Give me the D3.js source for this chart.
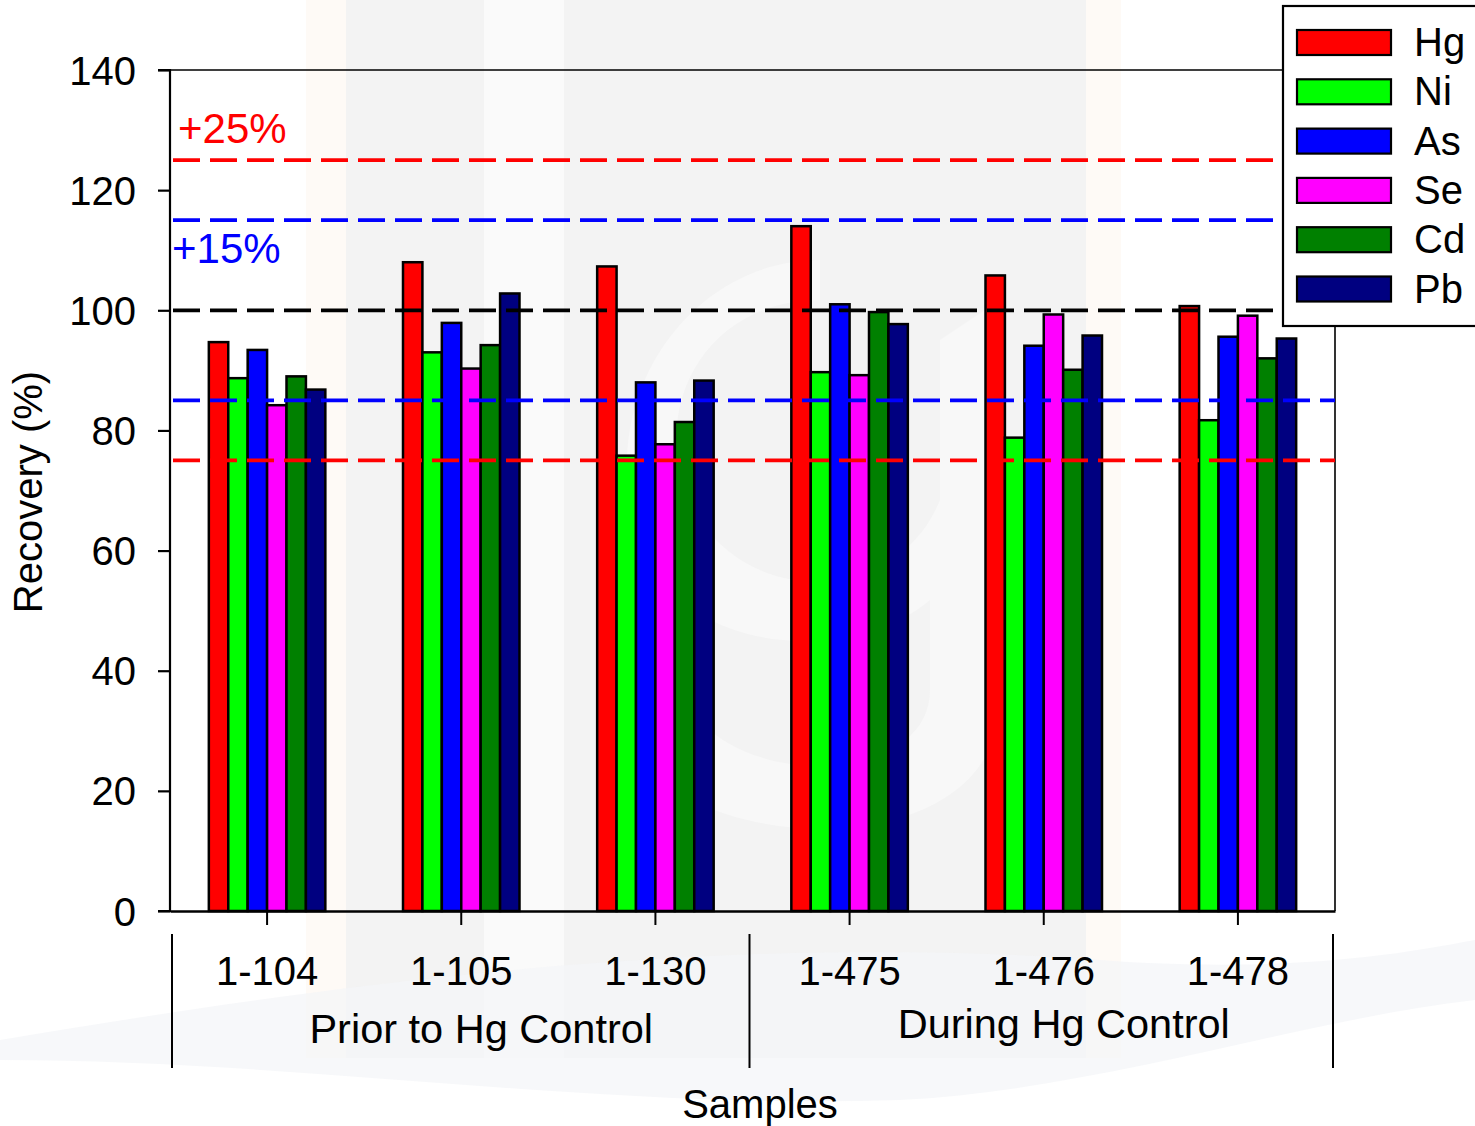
<!DOCTYPE html>
<html>
<head>
<meta charset="utf-8">
<script src="https://cdn.jsdelivr.net/npm/d3@7/dist/d3.min.js"></script>
<style>
  html, body { margin: 0; padding: 0; background: #fff; }
  svg { display: block; font-family: "Liberation Sans", Arial, sans-serif; }
</style>
</head>
<body>
<svg id="chart" width="1475" height="1126"></svg>
<script>
// Sample IDs and the two sampling periods
const samples = ["1-104", "1-105", "1-130", "1-475", "1-476", "1-478"];
const periods = [
  { name: "Prior to Hg Control", from: "1-104", mid: "1-105", to: "1-130" },
  { name: "During Hg Control",   from: "1-475", mid: "1-476", to: "1-478" }
];

// Metals and their bar colours
const metals = ["Hg", "Ni", "As", "Se", "Cd", "Pb"];
const metalColors = ["#ff0000", "#00ff00", "#0000ff", "#ff00ff", "#008000", "#000080"];

// Recovery (%) per metal, in sample order
const Hg = [94.7, 108.0, 107.3, 114.0, 105.8, 100.7];
const Ni = [88.7, 93.0, 75.8, 89.7, 78.8, 81.7];
const As = [93.4, 97.9, 88.0, 101.0, 94.1, 95.6];
const Se = [84.2, 90.3, 77.7, 89.2, 99.3, 99.1];
const Cd = [89.0, 94.2, 81.4, 99.7, 90.1, 92.0];
const Pb = [86.8, 102.8, 88.3, 97.7, 95.8, 95.3];
const seriesValues = { Hg, Ni, As, Se, Cd, Pb };

// Y axis ticks
const yTicks = [0, 20, 40, 60, 80, 100, 120, 140];

// Acceptance limits
const limits = [
  { value: 125, color: "#ff0000" },
  { value: 115, color: "#0000ff" },
  { value: 100, color: "#000000" },
  { value: 85,  color: "#0000ff" },
  { value: 75,  color: "#ff0000" }
];
const limitLabels = [
  { text: "+25%", value: 125, color: "#ff0000" },
  { text: "+15%", value: 115, color: "#0000ff" }
];

const svg = d3.select("#chart");
const plot = { left: 170, right: 1335, top: 70, bottom: 911 };

// --- faint background watermark ---
const bg = svg.append("g").attr("class", "watermark");
bg.append("rect").attr("x", 306).attr("y", 0).attr("width", 40).attr("height", 1058).attr("fill", "#fefaf6");
bg.append("rect").attr("x", 1086).attr("y", 0).attr("width", 35).attr("height", 1058).attr("fill", "#fefaf6");
bg.append("rect").attr("x", 346).attr("y", 0).attr("width", 740).attr("height", 1058).attr("fill", "#f3f3f3");
bg.append("rect").attr("x", 484).attr("y", 0).attr("width", 80).attr("height", 1058).attr("fill", "#fafafa");
bg.append("path")
  .attr("d", "M820,300 C700,300 640,420 700,520 C760,610 900,600 940,500 L940,340 L1000,300 L1000,700 C1000,860 720,860 640,760 L700,720 C760,790 930,780 930,690 L930,600 C860,660 700,660 650,560 C580,420 680,260 820,260 Z")
  .attr("fill", "#f8f8f8");
bg.append("path")
  .attr("d", "M0,1040 C300,990 700,930 1100,960 C1300,975 1420,950 1475,940 L1475,1000 C1300,1020 1100,1090 900,1100 C600,1110 300,1060 0,1060 Z")
  .attr("fill", "#f3f5f8").attr("opacity", 0.7);

// --- scales ---
const x0 = d3.scaleBand().domain(samples).range([plot.left, plot.right]).padding(0);
const bw = x0.bandwidth();
const x1 = d3.scaleBand().domain(metals).range([bw * 0.2, bw * 0.8]).padding(0);
const y = d3.scaleLinear().domain([0, 140]).range([plot.bottom, plot.top]);
const color = d3.scaleOrdinal().domain(metals).range(metalColors);

// plot frame (top and right)
svg.append("path")
  .attr("d", `M${plot.left},${plot.top}H${plot.right}V${plot.bottom}`)
  .attr("fill", "none").attr("stroke", "#000").attr("stroke-width", 1.6);

// --- bars ---
const groups = svg.append("g").selectAll("g")
  .data(samples).join("g")
  .attr("transform", d => `translate(${x0(d)},0)`);
groups.selectAll("rect")
  .data((s, i) => metals.map(m => ({ metal: m, value: seriesValues[m][i] })))
  .join("rect")
  .attr("x", d => x1(d.metal))
  .attr("width", x1.bandwidth())
  .attr("y", d => y(d.value))
  .attr("height", d => y(0) - y(d.value))
  .attr("fill", d => color(d.metal))
  .attr("stroke", "#000").attr("stroke-width", 2.5);

// --- limit lines ---
svg.append("g").selectAll("line")
  .data(limits).join("line")
  .attr("x1", plot.left).attr("x2", plot.right)
  .attr("y1", d => y(d.value)).attr("y2", d => y(d.value))
  .attr("stroke", d => d.color).attr("stroke-width", 3.8)
  .attr("stroke-dasharray", "27,10").attr("stroke-dashoffset", -3);

svg.append("g").selectAll("text")
  .data(limitLabels).join("text")
  .attr("x", (d, i) => i === 0 ? 178 : 172)
  .attr("y", d => d.value === 125 ? 143 : 263)
  .attr("fill", d => d.color)
  .attr("font-size", 42)
  .text(d => d.text);

// --- y axis ---
const yAxis = svg.append("g")
  .attr("transform", `translate(${plot.left},0)`)
  .call(d3.axisLeft(y).tickValues(yTicks).tickSize(12).tickPadding(22).tickFormat(d3.format("d")));
yAxis.select(".domain").attr("stroke-width", 2.2).attr("d", `M-12,${plot.top}H0V${plot.bottom}H-12`);
yAxis.selectAll(".tick line").attr("stroke-width", 2.2);
yAxis.selectAll(".tick text").attr("font-size", 40).attr("fill", "#000")
  .attr("font-family", "Liberation Sans, Arial, sans-serif").attr("dy", "0.35em");

// --- x axis ---
const xAxis = svg.append("g")
  .attr("transform", `translate(0,${plot.bottom})`)
  .call(d3.axisBottom(x0).tickSize(14).tickSizeOuter(0).tickFormat(""));
xAxis.select(".domain").attr("stroke-width", 2.6);
xAxis.selectAll(".tick line").attr("stroke-width", 2);

// sample labels
svg.append("g").selectAll("text")
  .data(samples).join("text")
  .attr("x", d => x0(d) + bw / 2)
  .attr("y", 985)
  .attr("text-anchor", "middle")
  .attr("font-size", 40)
  .text(d => d);

// period separators and names
const sepXs = [plot.left + 2, x0(periods[1].from) - 3, plot.right - 2];
svg.append("g").selectAll("line")
  .data(sepXs).join("line")
  .attr("x1", d => d).attr("x2", d => d)
  .attr("y1", 934).attr("y2", 1068)
  .attr("stroke", "#000").attr("stroke-width", 2);

svg.append("g").selectAll("text")
  .data(periods).join("text")
  .attr("x", d => x0(d.mid) + bw / 2 + 20)
  .attr("y", (d, i) => i === 0 ? 1043 : 1038)
  .attr("text-anchor", "middle")
  .attr("font-size", 41.5)
  .text(d => d.name);

// axis titles
svg.append("text")
  .attr("x", 760).attr("y", 1118)
  .attr("text-anchor", "middle").attr("font-size", 40)
  .text("Samples");
svg.append("text")
  .attr("transform", "translate(42,492) rotate(-90)")
  .attr("text-anchor", "middle").attr("font-size", 40)
  .text("Recovery (%)");

// --- legend ---
const legend = svg.append("g");
legend.append("rect")
  .attr("x", 1283).attr("y", 6).attr("width", 200).attr("height", 320)
  .attr("fill", "#fff").attr("stroke", "#000").attr("stroke-width", 2.2);
const rows = legend.selectAll("g.row")
  .data(metals).join("g").attr("class", "row")
  .attr("transform", (d, i) => `translate(0,${30 + i * 49.3})`);
rows.append("rect")
  .attr("x", 1297).attr("y", 0).attr("width", 94).attr("height", 25)
  .attr("fill", d => color(d)).attr("stroke", "#000").attr("stroke-width", 2.2);
rows.append("text")
  .attr("x", 1414).attr("y", 26)
  .attr("font-size", 40)
  .text(d => d);
</script>
</body>
</html>
